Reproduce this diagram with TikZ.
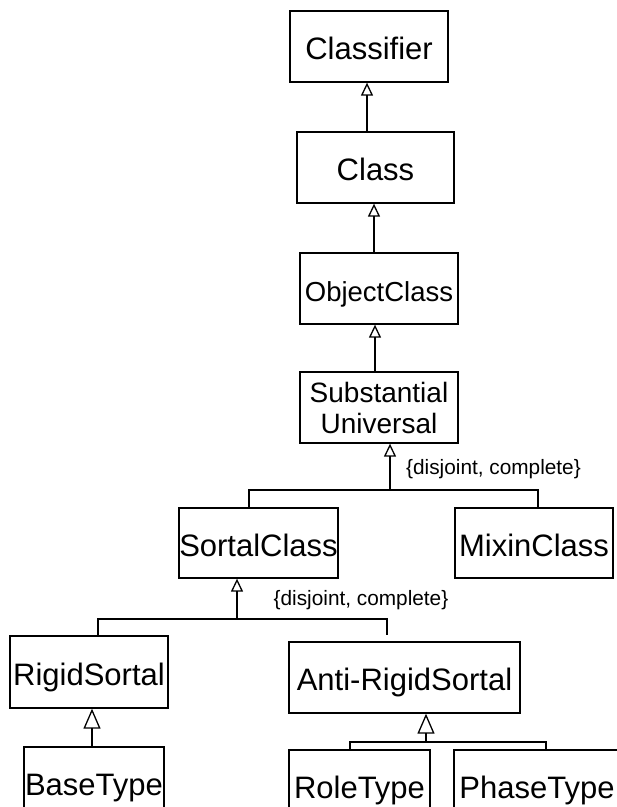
\documentclass[tikz,border=0pt]{standalone}
\usepackage{fontspec}
\setmainfont{Liberation Sans}
\usetikzlibrary{arrows.meta}
\begin{document}
\begin{tikzpicture}[x=1pt,y=-1pt,
 box/.style={draw, line width=1.3pt, inner sep=0pt, font=\fontsize{31}{33}\selectfont, text height=28pt, text depth=2pt},
 gen/.style={line width=1.3pt, -{Triangle[open,length=13pt,width=12pt]}},
 genbig/.style={line width=1.3pt, -{Triangle[open,length=20pt,width=17pt]}},
 plain/.style={line width=1.3pt},
 lbl/.style={font=\fontsize{20.8}{22}\selectfont, inner sep=0pt}]
\useasboundingbox (0,0) rectangle (617,807);
\clip (0,0) rectangle (617,807);
\node[box, minimum width=158pt, minimum height=71pt] (classifier) at (369,46.5) {Classifier};
\node[box, minimum width=157pt, minimum height=71pt] (class) at (375.5,167.5) {Class};
\node[box, minimum width=158pt, minimum height=71pt, font=\fontsize{27.5}{29}\selectfont] (objectclass) at (379,288.5) {ObjectClass};
\node[draw, line width=1.3pt, inner sep=0pt, minimum width=158pt, minimum height=71pt, align=center, font=\fontsize{28}{31}\selectfont] (substantial) at (379,407.5) {Substantial\\Universal};
\node[box, minimum width=159pt, minimum height=70pt] (sortal) at (258.5,543) {SortalClass};
\node[box, minimum width=158pt, minimum height=70pt] (mixin) at (534,543) {MixinClass};
\node[box, minimum width=158pt, minimum height=72pt] (rigid) at (89,672) {RigidSortal};
\node[box, minimum width=231pt, minimum height=71pt] (antirigid) at (404.5,677.5) {Anti-RigidSortal};
\node[box, minimum width=140pt, minimum height=71pt] (basetype) at (94,782.5) {BaseType};
\node[box, minimum width=141pt, minimum height=71pt] (roletype) at (359.5,785.5) {RoleType};
\node[box, minimum width=166pt, minimum height=71pt] (phasetype) at (537,785.5) {PhaseType};

\node[lbl] (dc1) at (493.5,469) {\{disjoint, complete\}};
\node[lbl] (dc2) at (361,600) {\{disjoint, complete\}};

\coordinate (j1) at (390,490);
\coordinate (j2) at (237,619);
\coordinate (e2) at (387,635);
\coordinate (j3) at (426,742);

\draw[gen] ([xshift=-8.5pt]class.north) -- ([xshift=-2pt]classifier.south);
\draw[gen] ([xshift=-5pt]objectclass.north) -- ([xshift=-1.5pt]class.south);
\draw[gen] ([xshift=-4pt]substantial.north) -- ([xshift=-4pt]objectclass.south);

\draw[gen] (j1) -- ([xshift=11pt]substantial.south);
\draw[plain] ([xshift=-9.5pt]sortal.north) |- (j1) -| ([xshift=4pt]mixin.north);

\draw[gen] (j2) -- ([xshift=-21.5pt]sortal.south);
\draw[plain] ([xshift=9pt]rigid.north) |- (j2) -| (e2);

\draw[genbig] ([xshift=-2pt]basetype.north) -- ([xshift=3pt]rigid.south);

\draw[genbig] (j3) -- ([xshift=21.5pt]antirigid.south);
\draw[plain] ([xshift=-9.5pt]roletype.north) |- (j3) -| ([xshift=9pt]phasetype.north);
\end{tikzpicture}
\end{document}
